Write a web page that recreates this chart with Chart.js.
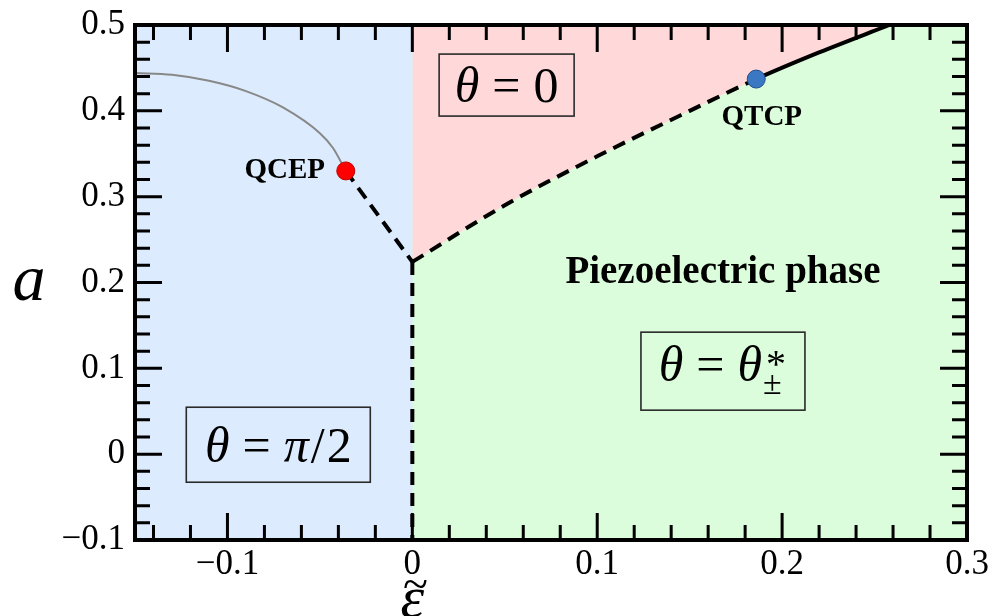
<!DOCTYPE html>
<html>
<head>
    <title>Phase diagram</title>
    <script src="https://cdn.jsdelivr.net/npm/chart.js"></script>
    <style>
        body { margin: 0; background: white; }
        .wrap { width: 991px; height: 616px; position: relative; }
    </style>
</head>
<body>
    <div class="wrap"><canvas id="phase"></canvas></div>

    <script>
        // axis ticks
        const xTicks = [-0.1, 0, 0.1, 0.2, 0.3];
        const aTicks = [-0.1, 0, 0.1, 0.2, 0.3, 0.4, 0.5];

        // boundary theta=0 / piezoelectric (dashed up to QTCP, solid after)
        const boundaryX = [0, 0.05, 0.1, 0.15, 0.186, 0.22, 0.258];
        const boundaryA = [0.224, 0.29, 0.347, 0.4, 0.437, 0.468, 0.5];

        // grey crossover curve ending at QCEP
        const crossX = [-0.15, -0.13, -0.11, -0.09, -0.07, -0.05, -0.043, -0.036];
        const crossA = [0.444, 0.442, 0.435, 0.423, 0.404, 0.374, 0.357, 0.330];

        // dashed first order lines
        const qcepLineX = [-0.036, 0];
        const qcepLineA = [0.330, 0.224];
        const verticalX = [0, 0];
        const verticalA = [0.224, -0.1];

        // special points
        const qcepX = [-0.036], qcepA = [0.330];
        const qtcpX = [0.186], qtcpA = [0.437];

        // region edges
        const blueTopX = [-0.15, 0.3], blueTopA = [0.5, 0.5];
        const greenTopX = [0, 0.3], greenTopA = [0.5, 0.5];

        const zip = (xs, ys) => xs.map((x, i) => ({ x: x, y: ys[i] }));

        const serif = '"Liberation Serif", "DejaVu Serif", serif';

        function fmt(v) {
            if (Math.abs(v) < 1e-9) return '0';
            return (v < 0 ? '\u2212' : '') + Math.abs(v).toFixed(1);
        }

        // draws a row of text pieces, centered on cx, baseline at by
        function drawPieces(ctx, pieces, cx, by) {
            let total = 0;
            pieces.forEach(p => { ctx.font = p.font || ctx.font; p.w = p.width !== undefined ? p.width : ctx.measureText(p.t).width; total += p.w + (p.gap || 0); });
            let x = cx - total / 2;
            ctx.textAlign = 'left';
            ctx.textBaseline = 'alphabetic';
            pieces.forEach(p => {
                if (p.stack) {
                    p.stack.forEach(s => { ctx.font = s.font; ctx.fillText(s.t, x + (s.dx || 0), by + s.dy); });
                } else {
                    ctx.font = p.font;
                    ctx.fillText(p.t, x, by + (p.dy || 0));
                }
                x += p.w + (p.gap || 0);
            });
        }

        function box(ctx, cx, cy, w, h) {
            ctx.save();
            ctx.strokeStyle = '#2a2a2a';
            ctx.lineWidth = 1.6;
            ctx.strokeRect(cx - w / 2, cy - h / 2, w, h);
            ctx.restore();
        }

        const decorPlugin = {
            id: 'decor',
            afterDatasetsDraw(chart) {
                const ctx = chart.ctx;
                const xs = chart.scales.x, ys = chart.scales.y;
                const a = chart.chartArea;
                ctx.save();
                ctx.fillStyle = '#000';

                // labels for the points
                ctx.font = 'bold 29px ' + serif;
                ctx.textAlign = 'center';
                ctx.textBaseline = 'middle';
                ctx.fillText('QCEP', xs.getPixelForValue(-0.069), ys.getPixelForValue(0.330));
                ctx.fillText('QTCP', xs.getPixelForValue(0.189), ys.getPixelForValue(0.392));

                ctx.font = 'bold 39px ' + serif;
                ctx.fillText('Piezoelectric phase', xs.getPixelForValue(0.168), ys.getPixelForValue(0.211));

                const it = 'italic 50px ' + serif;
                const rm = '50px ' + serif;

                // theta = 0
                let cx = xs.getPixelForValue(0.051), cy = ys.getPixelForValue(0.430);
                box(ctx, cx, cy, 135, 62);
                drawPieces(ctx, [
                    { t: '\u03b8', font: it, gap: 13 },
                    { t: '=', font: rm, gap: 13 },
                    { t: '0', font: rm }
                ], cx, cy + 17);

                // theta = pi/2
                cx = xs.getPixelForValue(-0.0725); cy = ys.getPixelForValue(0.011);
                box(ctx, cx, cy, 184, 75);
                drawPieces(ctx, [
                    { t: '\u03b8', font: it, gap: 13 },
                    { t: '=', font: rm, gap: 13 },
                    { t: '\u03c0', font: it, gap: 2 },
                    { t: '/', font: rm, gap: 2 },
                    { t: '2', font: rm }
                ], cx, cy + 17);

                // theta = theta*_pm
                cx = xs.getPixelForValue(0.168); cy = ys.getPixelForValue(0.0967);
                box(ctx, cx, cy, 164, 78);
                drawPieces(ctx, [
                    { t: '\u03b8', font: it, gap: 13 },
                    { t: '=', font: rm, gap: 13 },
                    { t: '\u03b8', font: it, gap: 1 },
                    { t: '', width: 24, stack: [
                        { t: '*', font: '40px ' + serif, dy: -4, dx: 3 },
                        { t: '\u00b1', font: '34px ' + serif, dy: 13 }
                    ] }
                ], cx, cy + 10);

                // axis titles
                ctx.textAlign = 'center';
                ctx.textBaseline = 'alphabetic';
                ctx.font = 'italic 66px ' + serif;
                ctx.fillText('a', 29, 300);
                ctx.font = 'italic 60px ' + serif;
                ctx.fillText('\u03b5', xs.getPixelForValue(0), 617);
                ctx.font = '46px ' + serif;
                ctx.fillText('~', xs.getPixelForValue(0) + 3, 599);

                // frame
                ctx.strokeStyle = '#000';
                ctx.lineWidth = 4;
                ctx.strokeRect(a.left, a.top, a.right - a.left, a.bottom - a.top);

                // inward ticks on all four sides
                ctx.lineWidth = 3;
                const major = 27, minor = 15, step = 0.02;
                ctx.beginPath();
                for (let v = -0.14; v < 0.3 - 1e-9; v += step) {
                    const isMajor = xTicks.some(t => Math.abs(t - v) < 1e-6);
                    const len = isMajor ? major : minor;
                    const px = xs.getPixelForValue(v);
                    ctx.moveTo(px, a.bottom); ctx.lineTo(px, a.bottom - len);
                    ctx.moveTo(px, a.top); ctx.lineTo(px, a.top + len);
                }
                for (let v = -0.08; v < 0.5 - 1e-9; v += step) {
                    const isMajor = aTicks.some(t => Math.abs(t - v) < 1e-6);
                    const len = isMajor ? major : minor;
                    const py = ys.getPixelForValue(v);
                    ctx.moveTo(a.left, py); ctx.lineTo(a.left + len, py);
                    ctx.moveTo(a.right, py); ctx.lineTo(a.right - len, py);
                }
                ctx.stroke();
                ctx.restore();
            }
        };

        const dash = [13, 8];
        const qtcpSplit = qtcpX[0];

        new Chart(document.getElementById('phase'), {
            type: 'scatter',
            data: {
                datasets: [
                    { data: zip(qtcpX, qtcpA), pointRadius: 9, pointBackgroundColor: '#3b78c3', pointBorderColor: '#1f4f8a', pointBorderWidth: 1, order: 1 },
                    { data: zip(qcepX, qcepA), pointRadius: 9, pointBackgroundColor: '#ff0000', pointBorderColor: '#c00000', pointBorderWidth: 1, order: 1 },
                    { data: zip(boundaryX, boundaryA), showLine: true, pointRadius: 0, borderColor: '#000', borderWidth: 4,
                      cubicInterpolationMode: 'monotone', borderDash: [],
                      segment: { borderDash: c => c.p1.parsed.x <= qtcpSplit + 1e-9 ? dash : [] }, order: 2 },
                    { data: zip(qcepLineX, qcepLineA), showLine: true, pointRadius: 0, borderColor: '#000', borderWidth: 4, borderDash: dash, order: 2 },
                    { data: zip(verticalX, verticalA), showLine: true, pointRadius: 0, borderColor: '#000', borderWidth: 4, borderDash: dash, order: 2 },
                    { data: zip(crossX, crossA), showLine: true, pointRadius: 0, borderColor: '#888888', borderWidth: 2, cubicInterpolationMode: 'monotone', order: 3 },
                    // shaded regions
                    { data: zip(boundaryX, boundaryA), showLine: true, pointRadius: 0, borderWidth: 0, cubicInterpolationMode: 'monotone', fill: 'end', backgroundColor: '#ffd9d9', order: 10 },
                    { data: zip(greenTopX, greenTopA), showLine: true, pointRadius: 0, borderWidth: 0, fill: 'start', backgroundColor: '#dcfddc', order: 11 },
                    { data: zip(blueTopX, blueTopA), showLine: true, pointRadius: 0, borderWidth: 0, fill: 'start', backgroundColor: '#dcebfd', order: 12 }
                ]
            },
            options: {
                responsive: true,
                maintainAspectRatio: false,
                animation: false,
                layout: { padding: { top: 25, right: 24, left: 0, bottom: 0 } },
                plugins: { legend: { display: false }, tooltip: { enabled: false } },
                scales: {
                    x: {
                        type: 'linear', min: -0.15, max: 0.3,
                        grid: { display: false }, border: { display: false },
                        afterBuildTicks: s => { s.ticks = xTicks.map(v => ({ value: v })); },
                        afterFit: s => { s.height = 76; },
                        ticks: { callback: v => fmt(v), color: '#000', padding: -4, maxRotation: 0, font: { family: serif, size: 35 } }
                    },
                    y: {
                        type: 'linear', min: -0.1, max: 0.5,
                        grid: { display: false }, border: { display: false },
                        afterBuildTicks: s => { s.ticks = aTicks.map(v => ({ value: v })); },
                        afterFit: s => { s.width = 135; },
                        ticks: { callback: v => fmt(v), color: '#000', padding: 2, font: { family: serif, size: 35 } }
                    }
                }
            },
            plugins: [decorPlugin]
        });
    </script>
</body>
</html>
